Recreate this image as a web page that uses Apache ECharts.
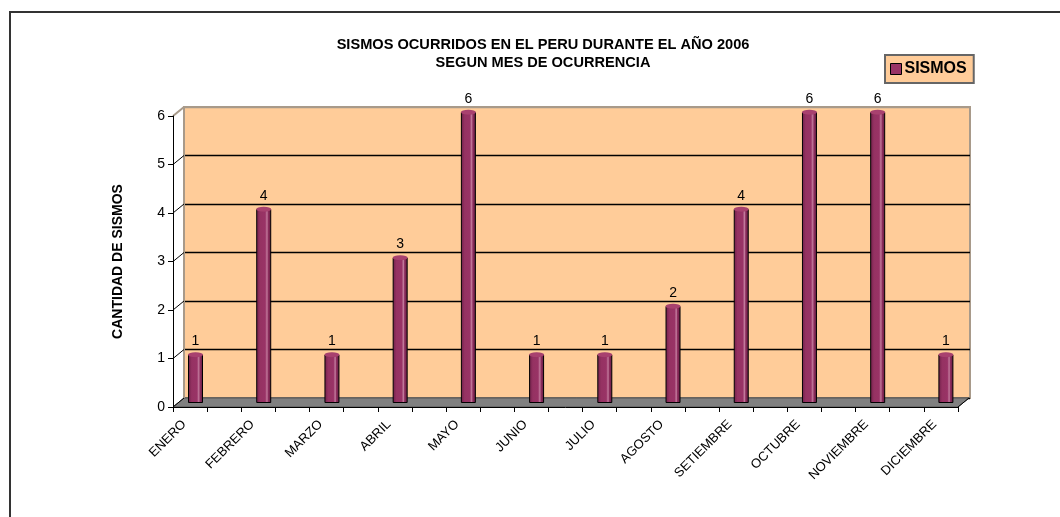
<!DOCTYPE html>
<html>
<head>
<meta charset="utf-8">
<script src="https://cdn.jsdelivr.net/npm/echarts@6/dist/echarts.min.js"></script>
<style>
html,body{margin:0;padding:0;background:#fff;}
#c{width:1060px;height:517px;}
</style>
</head>
<body>
<div id="c"></div>
<script>
// ---- data ----
const months = ['ENERO','FEBRERO','MARZO','ABRIL','MAYO','JUNIO','JULIO','AGOSTO','SETIEMBRE','OCTUBRE','NOVIEMBRE','DICIEMBRE'];
const sismos = [1,4,1,3,6,1,1,2,4,6,6,1];
const yMin = 0, yMax = 6, yStep = 1;
const seriesName = 'SISMOS';
const titleText = 'SISMOS OCURRIDOS EN EL PERU DURANTE EL AÑO 2006\nSEGUN MES DE OCURRENCIA';
const yAxisTitle = 'CANTIDAD DE SISMOS';

// ---- layout ----
const FONT = 'Liberation Sans, Arial, sans-serif';
const front = {left:173, top:116, width:785, height:291};
const depth = {dx:11, dy:-9};
const wall = {left:front.left+depth.dx, top:front.top+depth.dy, width:front.width+1, height:front.height};
const barsGrid = {left:161.4, top:112, width:818.6, height:291};
const frontTicks = new Array(23).fill('');
const wallEdge = '#a89a8a';

const chart = echarts.init(document.getElementById('c'), null, {renderer:'canvas'});

const option = {
  backgroundColor:'#ffffff',
  animation:false,
  title:{
    text:titleText,
    left:538, top:31, textAlign:'center',
    textStyle:{fontFamily:FONT, fontSize:14.6, fontWeight:'bold', color:'#000', lineHeight:18}
  },
  legend:{
    data:[{name:seriesName, itemStyle:{color:'#993366', borderColor:'#000', borderWidth:1}}],
    left:885, top:55,
    backgroundColor:'#FFCC99', borderColor:'#666', borderWidth:2,
    padding:[6,7,6,5],
    icon:'rect', itemWidth:11, itemHeight:11, itemGap:4,
    textStyle:{fontFamily:FONT, fontSize:16, fontWeight:'bold', color:'#000', padding:[0,0,0,-2]}
  },
  grid:[
    {left:wall.left, top:wall.top, width:wall.width, height:wall.height, show:true, backgroundColor:'#FFCC99', borderColor:wallEdge, borderWidth:2, z:0},
    {left:front.left, top:front.top, width:front.width, height:front.height, show:false},
    {left:barsGrid.left, top:barsGrid.top, width:barsGrid.width, height:barsGrid.height, show:false}
  ],
  xAxis:[
    {gridIndex:0, type:'category', data:months, show:false},
    {gridIndex:1, type:'category', data:frontTicks, boundaryGap:true,
      axisLine:{show:true, lineStyle:{color:'#000', width:1}},
      axisTick:{show:true, length:5, lineStyle:{color:'#000'}},
      axisLabel:{show:false}, splitLine:{show:false}, z:3},
    {gridIndex:2, type:'category', data:months, boundaryGap:true,
      axisLine:{show:false}, axisTick:{show:false},
      axisLabel:{show:true, rotate:45, interval:0, margin:8, padding:[0,16,0,0],
        fontFamily:FONT, fontSize:13, color:'#000'}}
  ],
  yAxis:[
    {gridIndex:0, type:'value', min:yMin, max:yMax, interval:yStep,
      axisLine:{show:false}, axisTick:{show:false}, axisLabel:{show:false},
      splitLine:{show:true, lineStyle:{color:['#000','#000','#000','#000','#000','#000',wallEdge], width:1.3}}},
    {gridIndex:1, type:'value', min:yMin, max:yMax, interval:yStep,
      name:yAxisTitle, nameLocation:'middle', nameRotate:90, nameGap:48,
      nameTextStyle:{fontFamily:FONT, fontSize:14, fontWeight:'bold', color:'#000'},
      axisLine:{show:true, lineStyle:{color:'#000', width:1}},
      axisTick:{show:true, length:5, lineStyle:{color:'#000'}},
      axisLabel:{show:true, margin:8, fontFamily:FONT, fontSize:14, color:'#000'},
      splitLine:{show:false}, z:3},
    {gridIndex:2, type:'value', min:yMin, max:yMax, interval:yStep, show:false}
  ],
  series:[
    {name:seriesName, type:'bar', xAxisIndex:2, yAxisIndex:2, data:sismos, barWidth:15, z:3,
      itemStyle:{
        color:new echarts.graphic.LinearGradient(0,0,1,0,[
          {offset:0, color:'#6e1f48'},
          {offset:0.25, color:'#953262'},
          {offset:0.6, color:'#993366'},
          {offset:0.72, color:'#c27a9c'},
          {offset:0.8, color:'#8e2e5e'},
          {offset:1, color:'#5e1a3d'}
        ]),
        borderColor:'#000', borderWidth:1
      },
      label:{show:true, position:'top', distance:6, fontFamily:FONT, fontSize:14, color:'#000'}
    },
    {name:'cap', type:'pictorialBar', xAxisIndex:2, yAxisIndex:2, data:sismos, z:4,
      symbol:'circle', symbolSize:[15,5], symbolPosition:'end', symbolOffset:[0,'-50%'],
      itemStyle:{color:'#a8416f', borderColor:'#000', borderWidth:1}, silent:true}
  ]
};
chart.setOption(option);

// ---- 3D decoration (floor, side wall edges, tick connectors), derived from the axes ----
const g = [];
const y0f = chart.convertToPixel({yAxisIndex:1}, yMin);
const y0w = chart.convertToPixel({yAxisIndex:0}, yMin);
const fl = front.left, fr = front.left+front.width;
g.push({type:'polygon', z:1, shape:{points:[[fl,y0f],[fr,y0f],[fr+depth.dx,y0w],[fl+depth.dx,y0w]]},
  style:{fill:'#808080', stroke:'#555', lineWidth:1}});
g.push({type:'line', z:3, shape:{x1:fr, y1:y0f, x2:fr+depth.dx, y2:y0w}, style:{stroke:'#000', lineWidth:1}});
const yTopW = chart.convertToPixel({yAxisIndex:0}, yMax);
g.push({type:'line', z:2, shape:{x1:wall.left, y1:yTopW, x2:wall.left, y2:y0w}, style:{stroke:wallEdge, lineWidth:2}});
for (let v = yMin; v <= yMax; v += yStep) {
  const yf = chart.convertToPixel({yAxisIndex:1}, v);
  const yw = chart.convertToPixel({yAxisIndex:0}, v);
  g.push({type:'line', z:3, shape:{x1:fl, y1:yf, x2:fl+depth.dx, y2:yw},
    style:{stroke: v===yMax ? wallEdge : '#000', lineWidth: v===yMax ? 2 : 1}});
}
// outer frame
g.push({type:'rect', z:0, shape:{x:10, y:12, width:1200, height:700}, style:{fill:null, stroke:'#333', lineWidth:2}});
chart.setOption({graphic:g});
</script>
</body>
</html>
